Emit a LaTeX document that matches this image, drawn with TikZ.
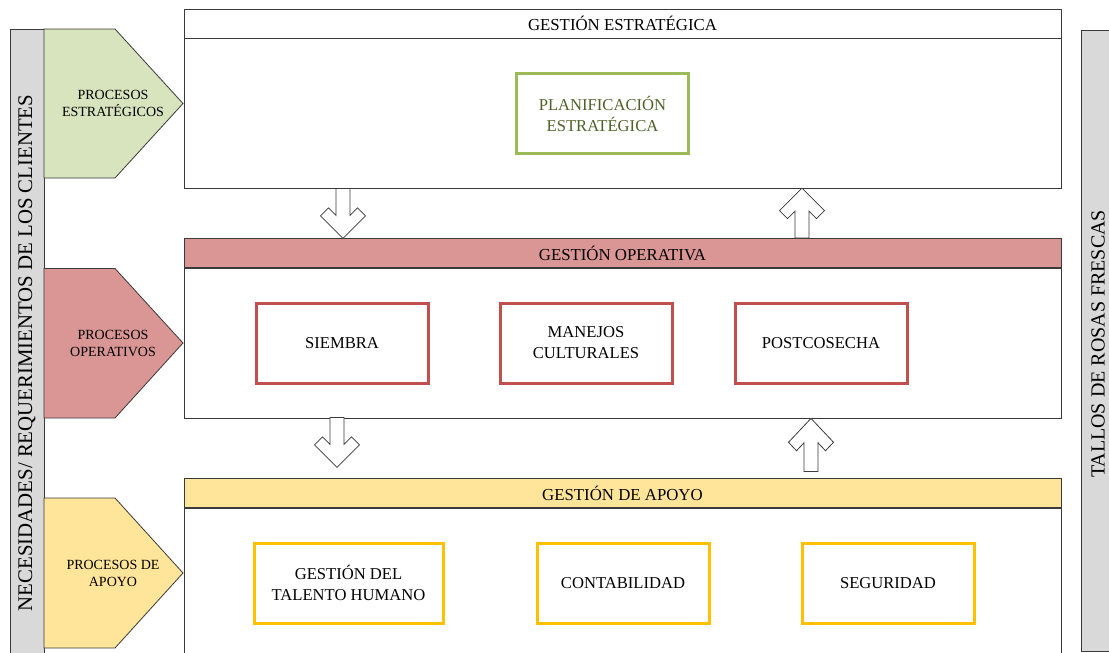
\documentclass[tikz,border=0pt]{standalone}
\usepackage{fontspec}
\setmainfont{Liberation Serif}
\usetikzlibrary{calc}
\definecolor{bargray}{HTML}{D9D9D9}
\definecolor{stratfill}{HTML}{D7E4BD}
\definecolor{operfill}{HTML}{D99694}
\definecolor{apoyofill}{HTML}{FFE599}
\definecolor{stratline}{HTML}{9BBB59}
\definecolor{operline}{HTML}{C0504D}
\definecolor{apoyoline}{HTML}{FFC000}
\definecolor{strattext}{HTML}{4F6228}
\definecolor{edge}{HTML}{3A3A3A}
\tikzset{
  mainbody/.style={draw=edge, line width=0.8pt, fill=white, minimum width=877pt, inner sep=0pt},
  header/.style={draw=edge, line width=0.8pt, minimum width=877pt, minimum height=29pt, inner sep=0pt,
    font=\fontsize{16.8}{19}\selectfont},
  procbox/.style={line width=3pt, fill=white, minimum width=172pt, minimum height=80pt, align=center,
    inner sep=0pt, font=\fontsize{16.6}{21}\selectfont},
  chevron/.style={draw=edge, line width=0.8pt},
  chevtext/.style={align=center, font=\fontsize{14}{17}\selectfont},
  sidebar/.style={draw=edge, line width=0.8pt, fill=bargray},
  blockarrow/.style={draw=edge, line width=0.8pt, fill=white, line join=miter},
  pics/downarrow/.style={code={
    \draw[blockarrow] (-7,0) -- (-7,27) -- (-14.5,19.5) -- (-22.5,27.5) -- (0,50)
      -- (22.5,27.5) -- (14.5,19.5) -- (7,27) -- (7,0) -- cycle;
  }},
}
\begin{document}
\begin{tikzpicture}[x=1pt, y=-1pt]
\useasboundingbox (0,0) rectangle (1109,653);

% side bars
\draw[sidebar] (10,700) -- (10,29) -- (44,29) -- (44,700);
\node[rotate=90, font=\fontsize{20.8}{24}\selectfont] (needs) at (27,353)
  {NECESIDADES/ REQUERIMIENTOS DE LOS CLIENTES};
\draw[sidebar] (1130,30) -- (1081,30) -- (1081,651) -- (1130,651);
\node[rotate=90, font=\fontsize{20}{24}\selectfont] (tallos) at (1098,344)
  {TALLOS DE ROSAS FRESCAS};

% process chevrons
\draw[chevron, fill=stratfill] (44,29) -- (115,29) -- (183,103.5) -- (115,178) -- (44,178) -- cycle;
\node[chevtext] (pe) at (113,103.5) {PROCESOS\\ESTRATÉGICOS};
\draw[chevron, fill=operfill] (44,268.5) -- (115,268.5) -- (183,343) -- (115,418) -- (44,418) -- cycle;
\node[chevtext] (po) at (113,343) {PROCESOS\\OPERATIVOS};
\draw[chevron, fill=apoyofill] (44,498) -- (115,498) -- (183,573) -- (115,648) -- (44,648) -- cycle;
\node[chevtext] (pa) at (113,573) {PROCESOS DE\\APOYO};

% strategic management
\node[mainbody, minimum height=150pt] (b1) at (622.5,113) {};
\node[header, fill=white] (h1) at (622.5,23.5) {GESTIÓN ESTRATÉGICA};
\node[procbox, draw=stratline, text=strattext] (plan) at (602.5,113.5) {PLANIFICACIÓN\\ESTRATÉGICA};

% operational management
\node[mainbody, minimum height=150pt] (b2) at (622.5,343) {};
\node[header, fill=operfill] (h2) at (622.5,253) {GESTIÓN OPERATIVA};
\node[procbox, draw=operline] (siembra) at (342,343) {SIEMBRA};
\node[procbox, draw=operline] (manejos) at (586,343) {MANEJOS\\CULTURALES};
\node[procbox, draw=operline] (post) at (821,343) {POSTCOSECHA};

% support management
\node[mainbody, minimum height=200pt] (b3) at (622.5,608) {};
\node[header, fill=apoyofill] (h3) at (622.5,493) {GESTIÓN DE APOYO};
\node[procbox, draw=apoyoline, minimum width=189pt] (talento) at (348.5,583) {GESTIÓN DEL\\TALENTO HUMANO};
\node[procbox, draw=apoyoline] (conta) at (623,583) {CONTABILIDAD};
\node[procbox, draw=apoyoline] (segur) at (888,583) {SEGURIDAD};

% flow arrows between the management levels
\coordinate (xa) at (343,0);
\coordinate (xb) at (802,0);
\coordinate (xc) at (337,0);
\coordinate (xd) at (811,0);
\pic at (b1.south -| xa) {downarrow};
\pic[yscale=-1] at (h2.north -| xb) {downarrow};
\pic at ($(b2.south -| xc)+(0,-1)$) {downarrow};
\pic[yscale=-1.06] at ($(b2.south -| xd)+(0,53)$) {downarrow};
\end{tikzpicture}
\end{document}
